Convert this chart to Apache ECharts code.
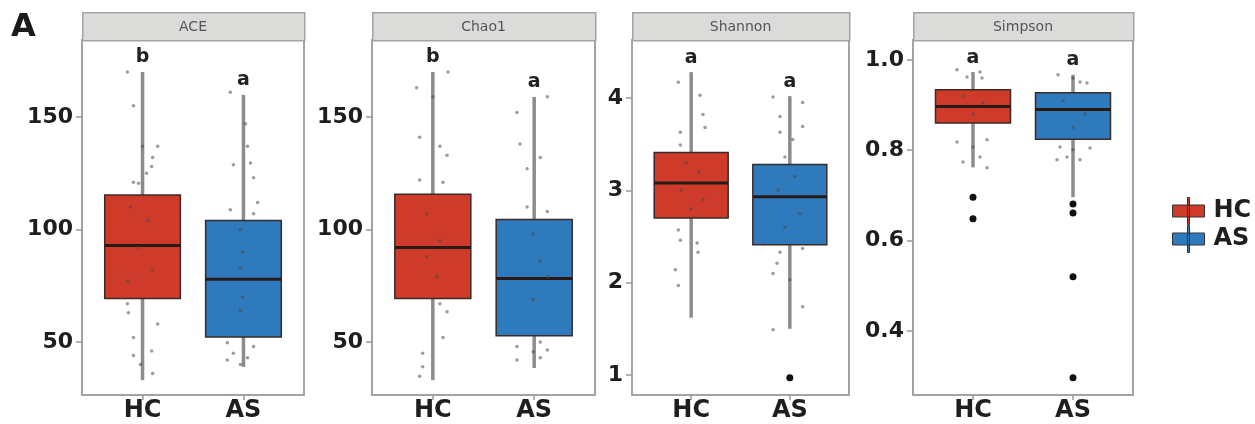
<!DOCTYPE html>
<html><head><meta charset="utf-8">
<script src="https://cdn.jsdelivr.net/npm/echarts@6/dist/echarts.min.js"></script>
<style>html,body{margin:0;padding:0;background:#fff}#c{width:1255px;height:424px}</style>
</head><body><div id="c"></div>
<script>
// ---------- data ----------
const groups = ['HC', 'AS'];
const panels = ['ACE', 'Chao1', 'Shannon', 'Simpson'];
// box stats: [lower whisker, Q1, median, Q3, upper whisker]
const aceHC = [33, 69.3, 92.9, 115.3, 170];
const aceAS = [38.9, 52.2, 77.8, 104, 159.8];
const chao1HC = [33, 69.3, 92, 115.6, 170];
const chao1AS = [38.4, 52.7, 78.2, 104.4, 158.9];
const shannonHC = [1.62, 2.70, 3.08, 3.41, 4.28];
const shannonAS = [1.50, 2.41, 2.93, 3.28, 4.02];
const simpsonHC = [0.762, 0.860, 0.897, 0.934, 0.973];
const simpsonAS = [0.696, 0.824, 0.890, 0.927, 0.967];
// outliers
const aceOutHC = [], aceOutAS = [];
const chao1OutHC = [], chao1OutAS = [];
const shannonOutHC = [], shannonOutAS = [0.97];
const simpsonOutHC = [0.696, 0.648];
const simpsonOutAS = [0.681, 0.661, 0.52, 0.296];
// jittered sample points: [horizontal jitter (category units), value]
const aceJitHC = [[-0.15,170],[-0.09,155],[0.0,137],[0.15,137],[0.10,132],[0.09,128],[-0.09,121],[-0.04,120.5],[0.04,125],
  [-0.12,110],[0.05,104],[-0.04,92],[0.10,82],[-0.15,77],
  [-0.15,67],[-0.14,63],[0.15,58],[-0.09,52],[0.09,46],[-0.09,44],[-0.02,40],[0.10,36]];
const aceJitAS = [[-0.13,161],[0.02,147],[0.04,137],[0.07,129.5],[-0.10,128.7],[0.10,123],[0.14,112],[-0.13,108.7],[0.10,107],
  [-0.03,100],[-0.01,90],[-0.03,83],[-0.01,70],[-0.03,64],
  [-0.16,49.6],[0.10,48],[-0.10,45],[-0.16,42],[0.04,43],[-0.03,40]];
const chao1JitHC = [[0.15,170],[-0.16,163],[0.0,159],[-0.13,141],[0.07,137],[0.14,133],[-0.13,122],[0.10,121],
  [-0.06,107],[0.07,95],[-0.06,88],[0.04,79],
  [0.07,67],[0.14,63.4],[0.10,52],[-0.10,45],[-0.10,39],[-0.13,34.7]];
const chao1JitAS = [[0.13,159],[-0.17,152],[-0.14,138],[0.06,132],[-0.07,127],[-0.07,110],[0.13,108],
  [-0.01,98],[0.06,86],[0.13,79],[-0.01,69],
  [0.06,50],[-0.17,48],[-0.01,45.6],[0.13,46.4],[-0.17,42],[0.06,43]];
const shannonJitHC = [[-0.13,4.17],[0.09,4.03],[0.12,3.82],[0.14,3.68],[-0.11,3.63],[-0.11,3.49],
  [-0.05,3.3],[0.08,3.2],[-0.10,3.0],[0.12,2.9],[0.0,2.8],
  [-0.13,2.57],[-0.11,2.46],[0.06,2.43],[0.07,2.33],[-0.16,2.14],[-0.13,1.97]];
const shannonJitAS = [[-0.17,4.01],[0.13,3.95],[-0.10,3.8],[0.13,3.69],[-0.10,3.63],[0.03,3.55],[-0.05,3.36],
  [0.05,3.15],[-0.12,3.0],[0.10,2.75],[-0.05,2.6],
  [0.13,2.37],[-0.10,2.33],[-0.13,2.21],[-0.17,2.1],[0.0,2.03],[0.13,1.74],[-0.17,1.49]];
const simpsonJitHC = [[-0.16,0.978],[0.07,0.973],[-0.06,0.962],[0.09,0.96],
  [-0.10,0.92],[0.10,0.905],[0.0,0.88],
  [-0.16,0.818],[0.14,0.823],[0.0,0.807],[0.07,0.785],[-0.10,0.774],[0.14,0.761]];
const simpsonJitAS = [[-0.15,0.967],[0.0,0.96],[0.07,0.951],[0.14,0.949],
  [-0.10,0.91],[0.12,0.88],[0.0,0.85],
  [-0.13,0.807],[0.0,0.801],[0.17,0.805],[-0.06,0.785],[-0.16,0.779],[0.07,0.779]];
// significance letters [HC, AS]
const aceLetters = ['b', 'a'];
const chao1Letters = ['b', 'a'];
const shannonLetters = ['a', 'a'];
const simpsonLetters = ['a', 'a'];
// y axis ticks and extents
const aceTicks = [50, 100, 150];
const chao1Ticks = [50, 100, 150];
const shannonTicks = [1, 2, 3, 4];
const simpsonTicks = [0.4, 0.6, 0.8, 1.0];
const aceRange = [26.4, 184.2];
const chao1Range = [26.4, 184.2];
const shannonRange = [0.783, 4.628];
const simpsonRange = [0.258, 1.044];

// ---------- layout / style ----------
const panelData = [
  {name: 'ACE', hc: aceHC, as: aceAS, outHC: aceOutHC, outAS: aceOutAS, jitHC: aceJitHC, jitAS: aceJitAS, letters: aceLetters, ticks: aceTicks, range: aceRange, dec: 0},
  {name: 'Chao1', hc: chao1HC, as: chao1AS, outHC: chao1OutHC, outAS: chao1OutAS, jitHC: chao1JitHC, jitAS: chao1JitAS, letters: chao1Letters, ticks: chao1Ticks, range: chao1Range, dec: 0},
  {name: 'Shannon', hc: shannonHC, as: shannonAS, outHC: shannonOutHC, outAS: shannonOutAS, jitHC: shannonJitHC, jitAS: shannonJitAS, letters: shannonLetters, ticks: shannonTicks, range: shannonRange, dec: 0},
  {name: 'Simpson', hc: simpsonHC, as: simpsonAS, outHC: simpsonOutHC, outAS: simpsonOutAS, jitHC: simpsonJitHC, jitAS: simpsonJitAS, letters: simpsonLetters, ticks: simpsonTicks, range: simpsonRange, dec: 1}
];
const gridPos = [
  {left: 82, width: 222},
  {left: 372, width: 223},
  {left: 632, width: 217},
  {left: 913, width: 220}
];
const TOP = 40, HEIGHT = 355, STRIP_TOP = 12;
const colors = ['#cf3b2b', '#2f79bd'];
const FONT = '"DejaVu Sans", "Liberation Sans", sans-serif';

function makeRender(letter) {
  return function (params, api) {
    const x = api.value(0);
    const lo = api.coord([x, api.value(1)]);
    const q1 = api.coord([x, api.value(2)]);
    const md = api.coord([x, api.value(3)]);
    const q3 = api.coord([x, api.value(4)]);
    const hi = api.coord([x, api.value(5)]);
    const w = api.size([0.75, 0])[0];
    const color = api.visual('color');
    const wStyle = {stroke: '#8c8c8c', lineWidth: 3.5};
    return {
      type: 'group',
      children: [
        {type: 'line', shape: {x1: lo[0], y1: lo[1], x2: q1[0], y2: q1[1]}, style: wStyle},
        {type: 'line', shape: {x1: q3[0], y1: q3[1], x2: hi[0], y2: hi[1]}, style: wStyle},
        {type: 'rect', shape: {x: md[0] - w / 2, y: q3[1], width: w, height: q1[1] - q3[1]},
          style: {fill: color, stroke: '#3a2b27', lineWidth: 1.5}},
        {type: 'line', shape: {x1: md[0] - w / 2, y1: md[1], x2: md[0] + w / 2, y2: md[1]},
          style: {stroke: '#2a1a16', lineWidth: 3}},
        {type: 'text', x: hi[0], y: hi[1] - 5,
          style: {text: letter, font: 'bold 19px ' + FONT, fill: '#222', align: 'center', verticalAlign: 'bottom'}}
      ]
    };
  };
}

const grid = [], xAxis = [], yAxis = [], series = [], graphic = [];
panelData.forEach((p, i) => {
  grid.push({left: gridPos[i].left, width: gridPos[i].width, top: TOP, height: HEIGHT,
    show: true, borderColor: '#a3a3a3', borderWidth: 2, backgroundColor: '#fff',
    containLabel: false, outerBoundsMode: 'none'});
  xAxis.push({
    type: 'value', gridIndex: i, min: 0.4, max: 2.6,
    axisLine: {show: false}, splitLine: {show: false},
    axisTick: {show: true, customValues: [1, 2], length: 5, lineStyle: {color: '#999', width: 1.5}},
    axisLabel: {customValues: [1, 2], formatter: v => groups[Math.round(v) - 1],
      color: '#1e1e1e', fontFamily: FONT, fontWeight: 'bold', fontSize: 24, margin: 4}
  });
  yAxis.push({
    type: 'value', gridIndex: i, min: p.range[0], max: p.range[1],
    axisLine: {show: false}, splitLine: {show: false},
    axisTick: {show: true, customValues: p.ticks, length: 6, lineStyle: {color: '#999', width: 1.5}},
    axisLabel: {customValues: p.ticks, formatter: v => v.toFixed(p.dec),
      color: '#1e1e1e', fontFamily: FONT, fontWeight: 'bold', fontSize: 22, margin: 9}
  });
  [p.hc, p.as].forEach((st, g) => {
    series.push({
      type: 'custom', name: groups[g], xAxisIndex: i, yAxisIndex: i,
      itemStyle: {color: colors[g]},
      renderItem: makeRender(p.letters[g]),
      encode: {x: 0, y: [1, 2, 3, 4, 5]},
      data: [[g + 1].concat(st)],
      z: 2
    });
  });
  [p.jitHC, p.jitAS].forEach((arr, g) => {
    series.push({
      type: 'scatter', name: 'jit' + groups[g], xAxisIndex: i, yAxisIndex: i,
      symbolSize: 3.5, itemStyle: {color: '#4a4a4a', opacity: 0.55},
      data: arr.map(d => [g + 1 + d[0], d[1]]), z: 5, silent: true
    });
  });
  [p.outHC, p.outAS].forEach((arr, g) => {
    series.push({
      type: 'scatter', name: 'out' + groups[g], xAxisIndex: i, yAxisIndex: i,
      symbolSize: 7, itemStyle: {color: '#111', opacity: 1},
      data: arr.map(v => [g + 1, v]), z: 6
    });
  });
  graphic.push({type: 'rect', left: gridPos[i].left, top: STRIP_TOP,
    shape: {width: gridPos[i].width, height: TOP - STRIP_TOP},
    style: {fill: '#dbdbd9', stroke: '#a3a3a3', lineWidth: 1.5}});
  graphic.push({type: 'text', x: gridPos[i].left + gridPos[i].width / 2, y: (STRIP_TOP + TOP) / 2 + 1,
    style: {text: p.name, font: '14px ' + FONT, fill: '#555', align: 'center', verticalAlign: 'middle'}});
});
graphic.push({type: 'text', left: 11, top: 12,
  style: {text: 'A', font: 'bold 32px ' + FONT, fill: '#1a1a1a'}});

const keyIcon = 'path://M0,7.5L32,7.5L32,19.5L0,19.5Z M15,0L17,0L17,27L15,27Z';
const option = {
  animation: false,
  backgroundColor: '#fff',
  grid, xAxis, yAxis, series, graphic,
  legend: {
    orient: 'vertical', left: 1167, top: 192,
    itemWidth: 32, itemHeight: 27, itemGap: 0,
    data: groups.map(g => ({name: g, icon: keyIcon, itemStyle: {borderColor: '#333', borderWidth: 1}})),
    textStyle: {fontFamily: FONT, fontWeight: 'bold', fontSize: 24, color: '#1e1e1e', padding: [0, 0, 0, 4]},
    selectedMode: false
  }
};
const chart = echarts.init(document.getElementById('c'), null, {renderer: 'canvas'});
chart.setOption(option);
</script>
</body></html>
